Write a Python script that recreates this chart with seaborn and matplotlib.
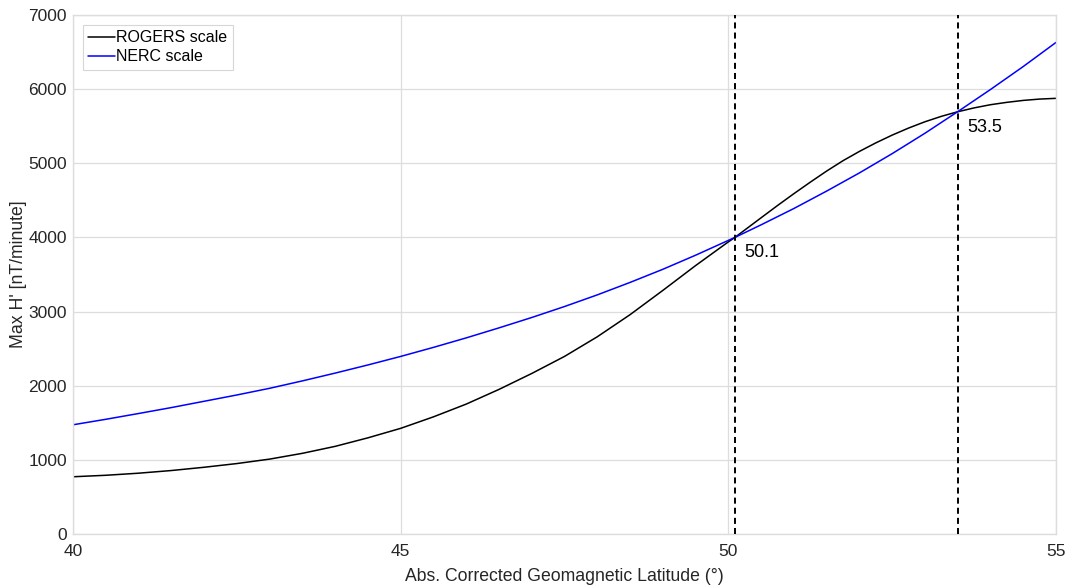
import numpy as np
import pandas as pd
import matplotlib
matplotlib.use("Agg")
import matplotlib.pyplot as plt
import seaborn as sns

# ---- data ----
rogers_lat = [40, 40.5, 41, 41.5, 42, 42.5, 43, 43.5, 44, 44.5, 45, 45.5, 46, 46.5,
              47, 47.5, 48, 48.5, 49, 49.5, 50, 50.1, 50.5, 50.75, 51, 51.25, 51.5,
              51.75, 52, 52.25, 52.5, 52.75, 53, 53.25, 53.5, 53.75, 54, 54.25,
              54.5, 54.75, 55]
rogers_val = [772, 792, 820, 856, 900, 950, 1010, 1088, 1182, 1297, 1425, 1580, 1752, 1950,
              2165, 2395, 2660, 2958, 3285, 3620, 3940, 4000, 4265, 4430, 4590, 4745, 4895,
              5035, 5160, 5275, 5380, 5475, 5560, 5633, 5695, 5747, 5790, 5822,
              5848, 5866, 5876]
nerc_lat = [40, 40.5, 41, 41.5, 42, 42.5, 43, 43.5, 44, 44.5, 45, 45.5, 46, 46.5,
            47, 47.5, 48, 48.5, 49, 49.5, 50, 50.1, 50.5, 51, 51.5, 52, 52.5, 53,
            53.5, 54, 54.5, 55]
nerc_val = [1473, 1547, 1625, 1705, 1790, 1875, 1965, 2065, 2170, 2280, 2395, 2517, 2645, 2780,
            2920, 3068, 3225, 3393, 3570, 3760, 3960, 4000, 4170, 4390, 4625, 4870, 5130, 5405,
            5696, 5995, 6305, 6630]
series_names = ["ROGERS scale", "NERC scale"]
series_colors = ["black", "blue"]
cross_lat = [50.1, 53.5]
cross_val = [4000, 5696]
cross_labels = ["50.1", "53.5"]
x_ticks = [40, 45, 50, 55]
y_ticks = [0, 1000, 2000, 3000, 4000, 5000, 6000, 7000]

df = pd.concat([
    pd.DataFrame({"lat": rogers_lat, "val": rogers_val, "scale": series_names[0]}),
    pd.DataFrame({"lat": nerc_lat, "val": nerc_val, "scale": series_names[1]}),
], ignore_index=True)

sns.set_theme(style="whitegrid")
plt.rcParams["font.family"] = ["Liberation Sans", "DejaVu Sans"]
plt.rcParams["axes.edgecolor"] = "#dddddd"
plt.rcParams["grid.color"] = "#dddddd"

fig = plt.figure(figsize=(10.70, 5.86), dpi=100)
ax = fig.add_axes([73 / 1070, 1 - 534 / 586, (1056 - 73) / 1070, (534 - 15) / 586])

sns.lineplot(data=df, x="lat", y="val", hue="scale", hue_order=series_names,
             palette=dict(zip(series_names, series_colors)), estimator=None,
             sort=True, linewidth=1.1, ax=ax)

for xv, yv, lab in zip(cross_lat, cross_val, cross_labels):
    ax.axvline(xv, color="black", linestyle=(0, (3.1, 2.1)), linewidth=1.4, zorder=3)
    ax.text(xv + 0.15, yv - 210, lab, fontsize=13, color="black",
            ha="left", va="center")

ax.set_xlim(40, 55)
ax.set_ylim(0, 7000)
ax.set_xticks(x_ticks)
ax.set_yticks(y_ticks)
ax.tick_params(axis="both", labelsize=12.5, colors="#262626", length=0)
ax.tick_params(axis="x", pad=7.5)
ax.tick_params(axis="y", pad=4.5)
ax.set_xlabel("Abs. Corrected Geomagnetic Latitude (°)", fontsize=12.7, color="#262626", labelpad=6)
ax.set_ylabel("Max H' [nT/minute]", fontsize=12.7, color="#262626", labelpad=0.5)
for s in ax.spines.values():
    s.set_color("#dddddd")
    s.set_linewidth(1.0)
ax.grid(True, color="#dddddd", linewidth=0.9)

leg = ax.legend(loc="upper left", fontsize=11.5, frameon=True, fancybox=False,
                handlelength=1.7, handletextpad=0.05, borderpad=0.35,
                labelspacing=0.25, borderaxespad=0.6)
leg.get_frame().set_edgecolor("#cccccc")
leg.get_frame().set_linewidth(0.8)
for t in leg.get_texts():
    t.set_color("black")
leg.set_title(None)

fig.savefig("out.png", dpi=100)
